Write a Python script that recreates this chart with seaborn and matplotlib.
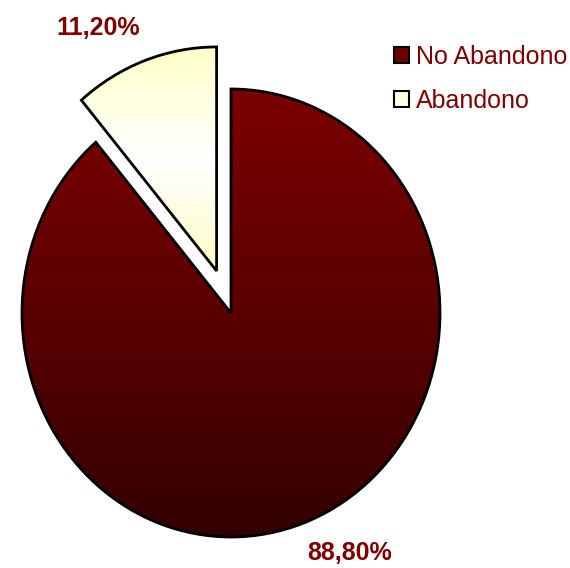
import numpy as np
import matplotlib
matplotlib.use("Agg")
import matplotlib.pyplot as plt
import seaborn as sns
from matplotlib.colors import LinearSegmentedColormap
from matplotlib.patches import Patch

categories = ["No Abandono", "Abandono"]
values = [88.8, 11.2]
explode = [0.0, 0.2]
label_texts = [f"{v:.2f}%".replace(".", ",") for v in values]

sns.set_style("white")
plt.rcParams["font.family"] = ["Liberation Sans", "DejaVu Sans"]

W, H = 570, 568
fig = plt.figure(figsize=(W / 100, H / 100), dpi=100)
cx, cy = 231, H - 313
rx, ry = 209, 224
x0, x1 = -1.1, 1.1
y0, y1 = -1.1, 1.3
ax = fig.add_axes([(cx + x0 * rx) / W, (cy + y0 * ry) / H,
                   (x1 - x0) * rx / W, (y1 - y0) * ry / H])

wedges, _ = ax.pie(values, explode=explode, startangle=90, counterclock=False,
                   wedgeprops=dict(edgecolor="black", linewidth=2.0),
                   normalize=True)
ax.set_xlim(x0, x1)
ax.set_ylim(y0, y1)
ax.set_aspect("auto")
ax.axis("off")

cmaps = [
    LinearSegmentedColormap.from_list("red", ["#330000", "#5a0000", "#7c0000"]),
    LinearSegmentedColormap.from_list("yel", ["#fdfdc8", "#ffffff", "#ffffc8"]),
]
grad = np.linspace(0, 1, 256).reshape(-1, 1)
for w, cm in zip(wedges, cmaps):
    w.set_facecolor("none")
    bb = w.get_path().get_extents(w.get_transform() + ax.transData.inverted())
    im = ax.imshow(grad, cmap=cm, origin="lower", aspect="auto",
                   extent=[bb.x0, bb.x1, bb.y0, bb.y1], zorder=w.get_zorder() - 0.1)
    im.set_clip_path(w)
ax.set_xlim(x0, x1)
ax.set_ylim(y0, y1)

# data labels
lab_pos = [(0.569, -1.071), (-0.636, 1.272)]
for (lx, ly), t in zip(lab_pos, label_texts):
    ax.text(lx, ly, t, ha="center", va="center", fontsize=18, fontweight="bold",
            color="#800000")

handles = [Patch(facecolor="#6a0000", edgecolor="black", linewidth=1.5),
           Patch(facecolor="#ffffe6", edgecolor="black", linewidth=1.5)]
leg = fig.legend(handles, categories, loc="upper left",
                 bbox_to_anchor=(381 / W, 1 - 32 / H), frameon=False,
                 fontsize=18, handlelength=0.6, handleheight=0.6,
                 handletextpad=0.28, labelspacing=0.8, borderpad=0)
for t in leg.get_texts():
    t.set_color("#800000")

fig.savefig("out.png", dpi=100)
